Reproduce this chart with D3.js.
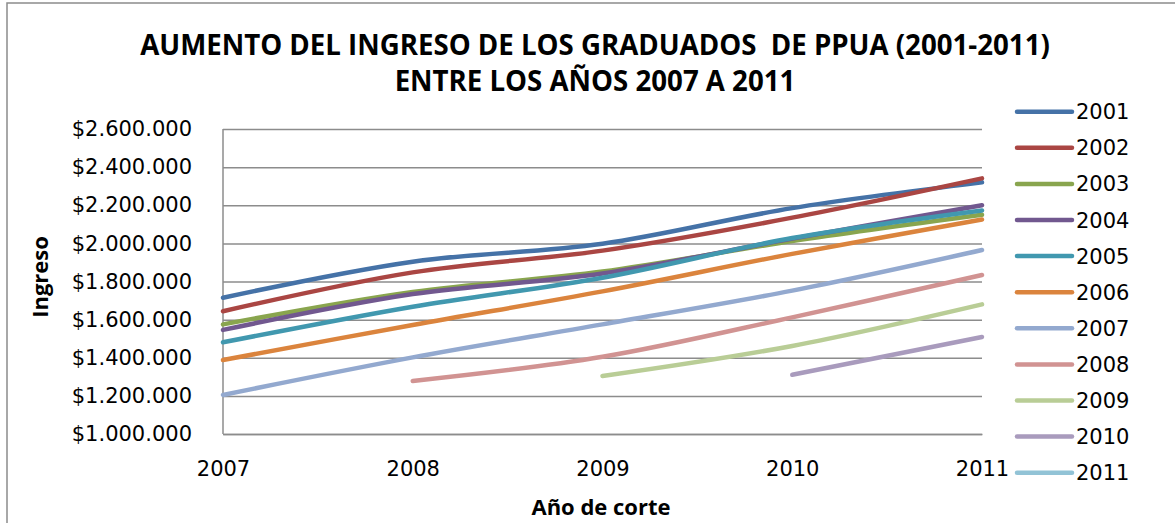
<!DOCTYPE html>
<html>
<head>
<meta charset="utf-8">
<script src="https://cdn.jsdelivr.net/npm/d3@7"></script>
<style>
  body { margin: 0; background: #fff; }
  text { font-family: "DejaVu Sans", sans-serif; fill: #000; }
</style>
</head>
<body>
<div id="chart"></div>
<script>
// data
const years = [2007, 2008, 2009, 2010, 2011];
const cohorts = ['2001', '2002', '2003', '2004', '2005', '2006', '2007', '2008', '2009', '2010', '2011'];
const yTicks = [1000000, 1200000, 1400000, 1600000, 1800000, 2000000, 2200000, 2400000, 2600000];

const g2001 = [1715000, 1904000, 1998000, 2185000, 2320000];
const g2002 = [1644000, 1848000, 1962000, 2135000, 2341000];
const g2003 = [1575000, 1745000, 1852000, 2012000, 2150000];
const g2004 = [1546000, 1734000, 1842000, 2025000, 2200000];
const g2005 = [1481000, 1668000, 1820000, 2028000, 2173000];
const g2006 = [1388000, 1572000, 1748000, 1945000, 2125000];
const g2007 = [1205000, 1402000, 1575000, 1752000, 1965000];
const g2008 = [null, 1278000, 1405000, 1612000, 1834000];
const g2009 = [null, null, 1304000, 1462000, 1680000];
const g2010 = [null, null, null, 1311000, 1509000];
const g2011 = [null, null, null, null, 1300000];

const colors = ['#4572A7', '#AA4643', '#89A54E', '#71588F', '#4198AF', '#DB843D',
                '#93A9CF', '#D19392', '#B9CD96', '#A99BBD', '#92C3D6'];

const series = [g2001, g2002, g2003, g2004, g2005, g2006, g2007, g2008, g2009, g2010, g2011]
  .map((vals, i) => ({
    name: cohorts[i],
    color: colors[i],
    points: years.map((yr, j) => [yr, vals[j]]).filter(p => p[1] !== null)
  }));

const W = 1175, H = 523;
const plot = { left: 223, right: 982, top: 129, bottom: 434 };

const svg = d3.select('#chart').append('svg')
  .attr('width', W)
  .attr('height', H);

// outer chart frame
svg.append('rect')
  .attr('x', 7).attr('y', 3)
  .attr('width', W + 20).attr('height', H + 20)
  .attr('fill', '#fff')
  .attr('stroke', '#8c8c8c')
  .attr('stroke-width', 1.5);

const x = d3.scaleLinear().domain([2007, 2011]).range([plot.left, plot.right]);
const y = d3.scaleLinear().domain([1000000, 2600000]).range([plot.bottom, plot.top]);

const fmt = v => '$' + d3.format(',')(v).replace(/,/g, '.');

// gridlines + y labels
const yAxis = svg.append('g')
  .attr('transform', `translate(${plot.left},0)`)
  .call(d3.axisLeft(y).tickValues(yTicks).tickSize(-(plot.right - plot.left)).tickPadding(31).tickFormat(fmt));
yAxis.select('.domain').remove();
yAxis.selectAll('.tick line').attr('stroke', '#8c8c8c').attr('stroke-width', 1.5);
yAxis.selectAll('.tick text')
  .style('font-family', '"DejaVu Sans", sans-serif')
  .style('font-size', '21px')
  .attr('fill', '#000');

// x axis
const xAxis = svg.append('g')
  .attr('transform', `translate(0,${plot.bottom})`)
  .call(d3.axisBottom(x).tickValues(years).tickSize(0).tickPadding(27).tickFormat(d3.format('d')));
xAxis.select('.domain').attr('stroke', '#8c8c8c').attr('stroke-width', 1.5);
xAxis.selectAll('.tick text')
  .style('font-family', '"DejaVu Sans", sans-serif')
  .style('font-size', '21px')
  .attr('fill', '#000');

svg.append('line')
  .attr('x1', plot.left).attr('x2', plot.left)
  .attr('y1', plot.top).attr('y2', plot.bottom)
  .attr('stroke', '#8c8c8c').attr('stroke-width', 1.5);

// lines (a one-point series draws nothing, as in the original)
const line = d3.line()
  .x(d => x(d[0]))
  .y(d => y(d[1]))
  .curve(d3.curveCardinal.tension(0));

svg.append('g')
  .selectAll('path')
  .data(series.filter(s => s.points.length > 1))
  .join('path')
  .attr('d', s => line(s.points))
  .attr('fill', 'none')
  .attr('stroke', s => s.color)
  .attr('stroke-width', 4.5)
  .attr('stroke-linecap', 'round');

// legend
const legend = svg.append('g')
  .selectAll('g')
  .data(series)
  .join('g')
  .attr('transform', (d, i) => `translate(1017,${111.7 + i * 36.1})`);
legend.append('line')
  .attr('x1', 0).attr('x2', 55)
  .attr('stroke', d => d.color)
  .attr('stroke-width', 4.5)
  .attr('stroke-linecap', 'round');
legend.append('text')
  .attr('x', 59)
  .attr('dy', '0.36em')
  .style('font-size', '21px')
  .text(d => d.name);

// titles
const title = ['AUMENTO DEL INGRESO DE LOS GRADUADOS  DE PPUA (2001-2011)', 'ENTRE LOS AÑOS 2007 A 2011'];
const titleText = svg.append('text')
  .attr('x', 595)
  .attr('text-anchor', 'middle')
  .style('font-family', '"Open Sans", sans-serif')
  .style('font-weight', 'bold')
  .style('white-space', 'pre')
  .style('font-size', '24px');
titleText.append('tspan').attr('x', 595).attr('y', 55).text(title[0]);
titleText.append('tspan').attr('x', 595).attr('y', 91).text(title[1]);
// scale to the width of the original title
const tw = titleText.select('tspan').node().getComputedTextLength();
titleText.style('font-size', (24 * 910 / tw) + 'px');

svg.append('text')
  .attr('transform', 'translate(48,277) rotate(-90)')
  .attr('text-anchor', 'middle')
  .style('font-family', '"Open Sans", sans-serif')
  .style('font-weight', 'bold')
  .style('font-size', '22px')
  .text('Ingreso');

svg.append('text')
  .attr('x', 601)
  .attr('y', 515)
  .attr('text-anchor', 'middle')
  .style('font-family', '"Open Sans", sans-serif')
  .style('font-weight', 'bold')
  .style('font-size', '22px')
  .text('Año de corte');
</script>
</body>
</html>
